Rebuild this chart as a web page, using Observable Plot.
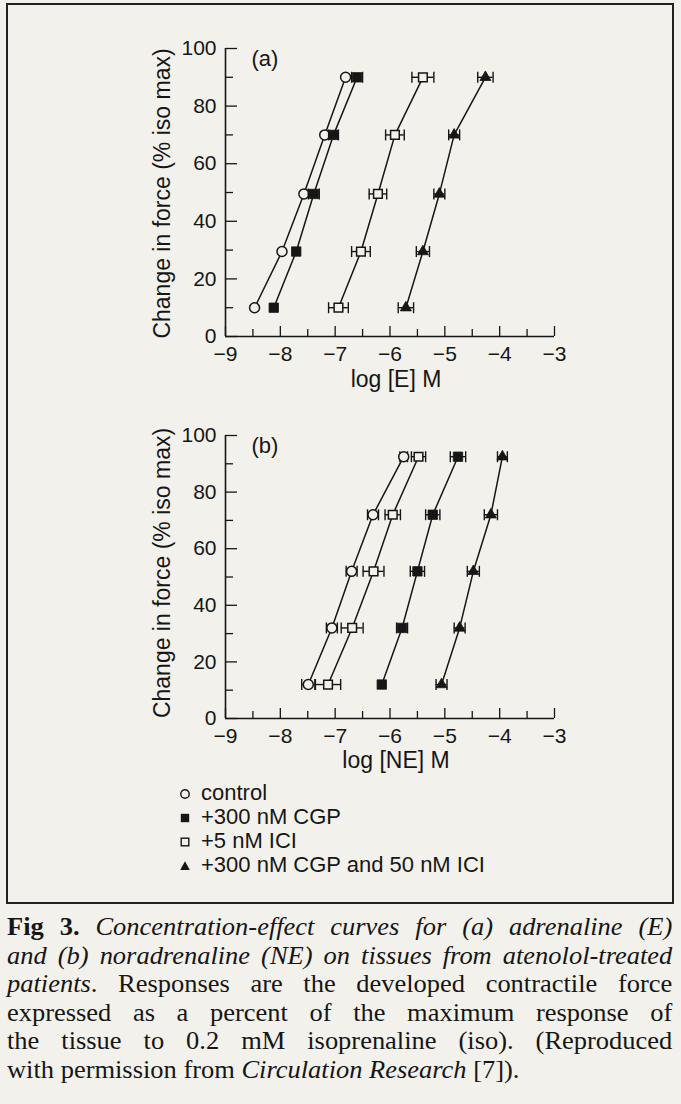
<!DOCTYPE html>
<html>
<head>
<meta charset="utf-8">
<script src="https://cdn.jsdelivr.net/npm/d3@7"></script>
<script src="https://cdn.jsdelivr.net/npm/@observablehq/plot@0.6"></script>
<style>
  html, body { margin: 0; padding: 0; background: #f3f1eb; }
  #page { position: relative; width: 681px; height: 1104px; overflow: hidden; background: #f3f1eb; color: #161616; font-family: "Liberation Sans", Arial, sans-serif; }
  #frame { position: absolute; left: 6px; top: 3px; width: 664px; height: 897px; border: 2px solid #222; }
  .plot { position: absolute; left: 0; }
  #legend { position: absolute; left: 177px; top: 781px; font-size: 22px; line-height: 24px; }
  #legend .row { height: 24px; white-space: nowrap; }
  #legend svg { vertical-align: middle; margin-right: 8px; }
  #caption { position: absolute; left: 7px; top: 913px; font-family: "Liberation Serif", "Times New Roman", serif; font-size: 24.5px; color: #161616; }
  #caption .ln { width: 616px; height: 28.5px; line-height: 28.5px; white-space: nowrap; text-align: justify; text-align-last: justify; transform: scaleX(1.08); transform-origin: 0 0; }
  #caption .ln.last { text-align: left; text-align-last: left; }
</style>
</head>
<body>
<div id="page">
  <div id="frame"></div>
  <div id="plotA" class="plot" style="top:0px"></div>
  <div id="plotB" class="plot" style="top:390px"></div>
  <div id="legend"></div>
  <div id="caption">
    <div class="ln"><b>Fig 3.</b> <i>Concentration-effect curves for (a) adrenaline (E)</i></div>
    <div class="ln"><i>and (b) noradrenaline (NE) on tissues from atenolol-treated</i></div>
    <div class="ln"><i>patients</i>. Responses are the developed contractile force</div>
    <div class="ln">expressed as a percent of the maximum response of</div>
    <div class="ln">the tissue to 0.2 mM isoprenaline (iso). (Reproduced</div>
    <div class="ln last">with permission from <i>Circulation Research</i> [7]).</div>
  </div>
</div>
<script>
// ---------------- data ----------------
const seriesNames = ["control", "+300 nM CGP", "+5 nM ICI", "+300 nM CGP and 50 nM ICI"];

const tickX = [-9, -8, -7, -6, -5, -4, -3];
const tickXMinor = [-8.5, -7.5, -6.5, -5.5, -4.5, -3.5];
const tickY = [0, 20, 40, 60, 80, 100];
const tickYMinor = [10, 30, 50, 70, 90];

// panel (a): adrenaline (E)
const levelsE = [10, 29.5, 49.5, 70, 90];
const E_control = [-8.47, -7.97, -7.57, -7.19, -6.81];
const E_control_err = [0, 0, 0, 0, 0];
const E_cgp = [-8.12, -7.71, -7.39, -7.03, -6.60];
const E_cgp_err = [0, 0, 0.1, 0.09, 0.1];
const E_ici = [-6.94, -6.53, -6.22, -5.91, -5.40];
const E_ici_err = [0.18, 0.17, 0.16, 0.17, 0.2];
const E_both = [-5.71, -5.40, -5.10, -4.83, -4.26];
const E_both_err = [0.14, 0.12, 0.1, 0.1, 0.14];

// panel (b): noradrenaline (NE)
const levelsNE = [12, 32, 52, 72, 92.5];
const NE_control = [-7.49, -7.06, -6.70, -6.31, -5.75];
const NE_control_err = [0.12, 0.1, 0.1, 0.1, 0.07];
const NE_cgp = [-6.15, -5.78, -5.50, -5.22, -4.76];
const NE_cgp_err = [0, 0.1, 0.13, 0.13, 0.14];
const NE_ici = [-7.13, -6.69, -6.30, -5.95, -5.48];
const NE_ici_err = [0.23, 0.2, 0.19, 0.14, 0.13];
const NE_both = [-5.06, -4.73, -4.48, -4.16, -3.95];
const NE_both_err = [0.1, 0.1, 0.11, 0.12, 0.09];

// ---------------- build ----------------
const ink = "#161616";
const bg = "#f3f1eb";
const fmt = d => (d < 0 ? "\u2212" + Math.abs(d) : String(d));

function rows(series, levels, xs, errs) {
  return levels.map((y, i) => ({series, y, x: xs[i], err: errs[i]}));
}

const dataE = [
  rows(seriesNames[0], levelsE, E_control, E_control_err),
  rows(seriesNames[1], levelsE, E_cgp, E_cgp_err),
  rows(seriesNames[2], levelsE, E_ici, E_ici_err),
  rows(seriesNames[3], levelsE, E_both, E_both_err)
];
const dataNE = [
  rows(seriesNames[0], levelsNE, NE_control, NE_control_err),
  rows(seriesNames[1], levelsNE, NE_cgp, NE_cgp_err),
  rows(seriesNames[2], levelsNE, NE_ici, NE_ici_err),
  rows(seriesNames[3], levelsNE, NE_both, NE_both_err)
];

const styles = {
  [seriesNames[0]]: {symbol: "circle", r: 5, fill: bg, strokeWidth: 1.5},
  [seriesNames[1]]: {symbol: "square", r: 5.3, fill: ink, strokeWidth: 0.8},
  [seriesNames[2]]: {symbol: "square", r: 4.9, fill: bg, strokeWidth: 1.5},
  [seriesNames[3]]: {symbol: "triangle", r: 4.1, fill: ink, strokeWidth: 0.8}
};

// vertical cap symbol for error bars
const capSymbol = {
  draw(context, size) {
    const h = Math.sqrt(size / Math.PI);
    context.moveTo(0, -h);
    context.lineTo(0, h);
  }
};

function chart(groups, xLabel, panelLabel, layout) {
  const marks = [];
  // axes lines
  marks.push(Plot.ruleX([tickX[0]], {stroke: ink, strokeWidth: 1.6}));
  marks.push(Plot.ruleY([tickY[0]], {stroke: ink, strokeWidth: 1.6}));
  // ticks (inward)
  marks.push(Plot.axisX({ticks: tickX, tickSize: -10, tickPadding: 20, tickFormat: fmt, stroke: ink, strokeWidth: 1.3, fill: ink}));
  marks.push(Plot.axisX({ticks: tickXMinor, tickSize: -7, tickPadding: 20, tickFormat: () => "", stroke: ink, strokeWidth: 1.3}));
  marks.push(Plot.axisY({ticks: tickY, tickSize: -12, tickPadding: 21, tickFormat: fmt, stroke: ink, strokeWidth: 1.3, fill: ink}));
  marks.push(Plot.axisY({ticks: tickYMinor, tickSize: -8, tickPadding: 21, tickFormat: () => "", stroke: ink, strokeWidth: 1.3}));
  // labels
  marks.push(Plot.text([xLabel], {frameAnchor: "bottom", dx: 6, dy: layout.xLabelDy, fontSize: 23, textAnchor: "middle", lineAnchor: "middle", fill: ink}));
  marks.push(Plot.text(["Change in force (% iso max)"], {frameAnchor: "left", dx: -63, dy: layout.yLabelDy, rotate: -90, fontSize: 23, textAnchor: "middle", lineAnchor: "middle", fill: ink}));
  marks.push(Plot.text([panelLabel], {frameAnchor: "top-left", dx: 26, dy: 10, fontSize: 22, textAnchor: "start", lineAnchor: "middle", fill: ink}));
  // series
  for (const g of groups) {
    marks.push(Plot.line(g, {x: "x", y: "y", stroke: ink, strokeWidth: 1.5}));
  }
  for (const g of groups) {
    const st = styles[g[0].series];
    const withErr = g.filter(d => d.err > 0);
    marks.push(Plot.ruleY(withErr, {y: "y", x1: d => d.x - d.err, x2: d => d.x + d.err, stroke: ink, strokeWidth: 1.4}));
    marks.push(Plot.dot(withErr, {x: d => d.x - d.err, y: "y", symbol: capSymbol, r: 5.5, fill: "none", stroke: ink, strokeWidth: 1.4}));
    marks.push(Plot.dot(withErr, {x: d => d.x + d.err, y: "y", symbol: capSymbol, r: 5.5, fill: "none", stroke: ink, strokeWidth: 1.4}));
    marks.push(Plot.dot(g, {x: "x", y: "y", symbol: st.symbol, r: st.r, fill: st.fill, stroke: ink, strokeWidth: st.strokeWidth}));
  }
  return Plot.plot({
    width: 681,
    height: layout.height,
    marginLeft: 225,
    marginRight: 127,
    marginTop: layout.marginTop,
    marginBottom: layout.marginBottom,
    x: {domain: [tickX[0], tickX[tickX.length - 1]], label: null},
    y: {domain: [tickY[0], tickY[tickY.length - 1]], label: null},
    style: {background: "transparent", color: ink, fontFamily: "'Liberation Sans', Arial, sans-serif", fontSize: "21px", overflow: "visible"},
    marks
  });
}

document.getElementById("plotA").appendChild(
  chart(dataE, "log [E] M", "(a)", {height: 400, marginTop: 48, marginBottom: 64, xLabelDy: 43, yLabelDy: 1})
);
document.getElementById("plotB").appendChild(
  chart(dataNE, "log [NE] M", "(b)", {height: 400, marginTop: 45, marginBottom: 72, xLabelDy: 42, yLabelDy: -4})
);

// legend
const legendSymbols = [
  `<circle cx="8" cy="8" r="4.2" fill="${bg}" stroke="${ink}" stroke-width="1.4"/>`,
  `<rect x="3.8" y="3.8" width="8.4" height="8.4" fill="${ink}"/>`,
  `<rect x="4.2" y="4.2" width="7.6" height="7.6" fill="${bg}" stroke="${ink}" stroke-width="1.4"/>`,
  `<polygon points="8,3.2 12.8,12 3.2,12" fill="${ink}"/>`
];
const legend = document.getElementById("legend");
seriesNames.forEach((name, i) => {
  const row = document.createElement("div");
  row.className = "row";
  row.innerHTML = `<svg width="16" height="16" viewBox="0 0 16 16">${legendSymbols[i]}</svg>`;
  const span = document.createElement("span");
  span.textContent = name;
  row.appendChild(span);
  legend.appendChild(row);
});
</script>
</body>
</html>
